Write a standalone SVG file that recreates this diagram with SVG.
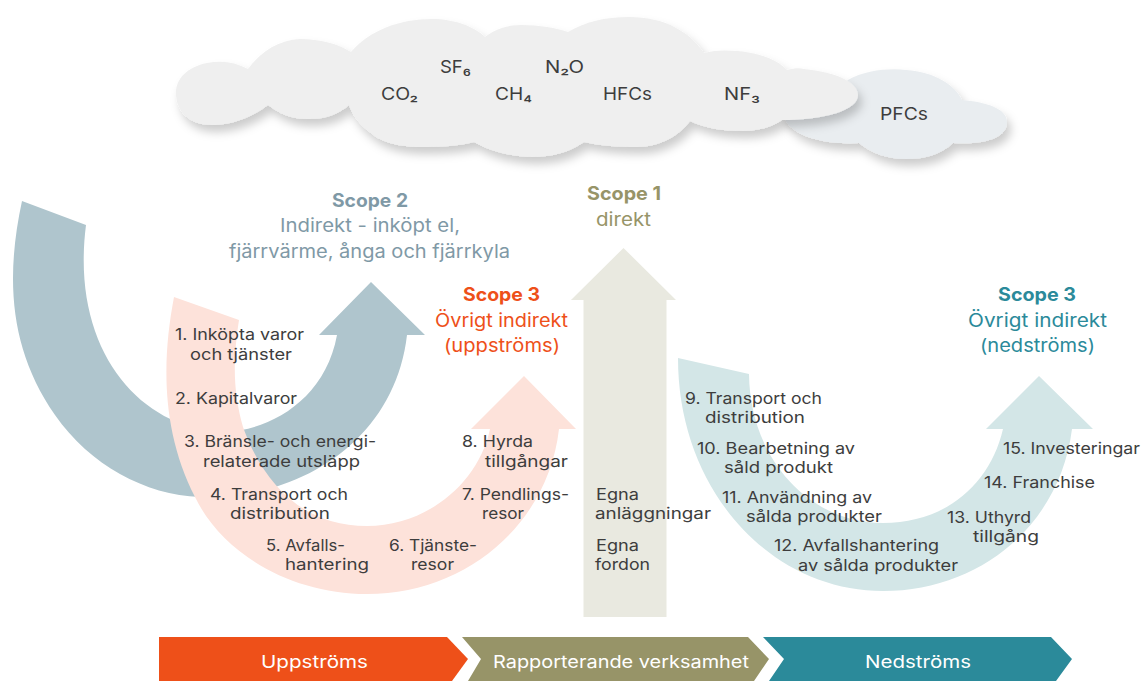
<svg xmlns="http://www.w3.org/2000/svg" width="1141" height="681" viewBox="0 0 1141 681">
<defs>
<filter id="sh" x="-10%" y="-30%" width="120%" height="170%"><feDropShadow dx="4" dy="7" stdDeviation="5" flood-color="#000" flood-opacity="0.2"/></filter>
</defs>
<style>
text{font-family:"Inter","Open Sans","Liberation Sans",sans-serif;font-size:16.2px;fill:#3d3d3d}
.h{font-size:18.5px;font-weight:700}
.s{font-size:18.5px}
.c{font-size:17.5px;fill:#3d3d3d}
.b{font-size:17.5px;fill:#fff}
.blue{fill:#7f99a6}.org{fill:#ee5019}.oli{fill:#979468}.tea{fill:#2b8a9a}
</style>
<rect width="1141" height="681" fill="#fff"/>
<g id="cloud-pfc">
<path filter="url(#sh)" fill="#e9edf0" d="M780,110 C810,95 835,90 848,80 C865,70 890,68 906,70 C935,72 955,85 962,100 C985,102 1007,108 1007,122 C1007,138 985,145 953,143 C940,155 925,159 906,159 C885,159 870,152 859,143 C835,145 800,140 787,123 Z"/>
<text class="c" x="880" y="120" textLength="48" lengthAdjust="spacingAndGlyphs">PFCs</text>
</g>
<g id="cloud-main">
<path filter="url(#sh)" fill="#efefef" d="M248,69 C235,62 222,60 207,63 C188,67 176,78 176,93 C176,112 190,125 212,125 C235,125 255,115 268,105 C280,114 293,120 310,119 C327,119 340,113 349,105 C345,85 346,65 351,52 C338,44 320,39 300,39 C280,40 262,50 248,69 Z M349,105 C345,85 346,65 351,52 C370,30 400,19 432,19 C455,19 475,27 485,37 C495,29 508,25 521,25 C540,25 556,28 568,32 C585,22 605,17 629,17 C665,17 690,32 704,53 C715,50 725,50 737,51 C760,53 778,60 787,70 C795,68 800,68 804,69 C835,72 858,82 858,95 C858,110 825,120 782,120 C772,127 758,131 743,131 C722,131 705,128 690,121 C680,135 660,147 637,147 C620,147 600,146 584,142 C570,152 552,157 532,157 C510,157 488,150 474,142 C460,146 440,147 421,147 C395,147 378,140 371,133 C360,125 352,115 349,105 Z"/>
<text class="c" x="381" y="100" textLength="37" lengthAdjust="spacingAndGlyphs">CO₂</text>
<text class="c" x="440" y="73" textLength="31" lengthAdjust="spacingAndGlyphs">SF₆</text>
<text class="c" x="545" y="73" textLength="39" lengthAdjust="spacingAndGlyphs">N₂O</text>
<text class="c" x="495" y="100" textLength="37" lengthAdjust="spacingAndGlyphs">CH₄</text>
<text class="c" x="603" y="100" textLength="49" lengthAdjust="spacingAndGlyphs">HFCs</text>
<text class="c" x="724" y="100" textLength="36" lengthAdjust="spacingAndGlyphs">NF₃</text>
</g>
<g id="connectors">
<path id="arrow-scope2" fill="#afc5cd" d="M22,201 C5,280 10,350 55,415 C90,465 145,495 200,497 C300,500 395,440 407,335 L425,335 L371,282 L319,335 L337,335 C325,400 270,430 225,432 C140,430 70,350 86,225 Z"/>
<path id="arrow-scope3-up" fill="#fde2da" d="M174,297 C162,360 161,430 195,497 C222,553 290,594 367,594 C465,594 548,525 559,429 L576,429 L524,376 L471,429 L490,429 C478,485 425,526 367,526 C300,526 262,480 243,427 C234,395 232,365 239,320 Z"/>
<path id="arrow-scope1" fill="#e9e9e0" d="M583.5,617 V300 H571 L623.5,248 L676,300 H666.5 V617 Z"/>
<path id="arrow-scope3-down" fill="#d3e6e7" d="M678,358 C678,490 770,591 883,591 C980,591 1060,525 1072,429 L1093,429 L1039,376 L986,429 L1003,429 C990,485 945,523 883,523 C810,523 750,460 749,374 Z"/>
</g>
<g id="scope2-label">
<text class="h blue" x="332" y="207" textLength="76" lengthAdjust="spacingAndGlyphs">Scope 2</text>
<text class="s blue" x="280" y="232" textLength="180" lengthAdjust="spacingAndGlyphs">Indirekt - inköpt el,</text>
<text class="s blue" x="229" y="258" textLength="281" lengthAdjust="spacingAndGlyphs">fjärrvärme, ånga och fjärrkyla</text>
</g>
<g id="scope3-up-label">
<text class="h org" x="463" y="301" textLength="77" lengthAdjust="spacingAndGlyphs">Scope 3</text>
<text class="s org" x="435" y="326.500" textLength="133" lengthAdjust="spacingAndGlyphs">Övrigt indirekt</text>
<text class="s org" x="444" y="352" textLength="116" lengthAdjust="spacingAndGlyphs">(uppströms)</text>
</g>
<g id="scope1-label">
<text class="h oli" x="587" y="200" textLength="74" lengthAdjust="spacingAndGlyphs">Scope 1</text>
<text class="s oli" x="596" y="225.500" textLength="55" lengthAdjust="spacingAndGlyphs">direkt</text>
</g>
<g id="scope3-down-label">
<text class="h tea" x="998" y="301" textLength="78" lengthAdjust="spacingAndGlyphs">Scope 3</text>
<text class="s tea" x="968" y="326.500" textLength="139" lengthAdjust="spacingAndGlyphs">Övrigt indirekt</text>
<text class="s tea" x="980" y="352" textLength="115" lengthAdjust="spacingAndGlyphs">(nedströms)</text>
</g>
<g id="items-up">
<text x="175" y="340" textLength="129" lengthAdjust="spacingAndGlyphs">1. Inköpta varor</text>
<text x="190" y="360" textLength="102" lengthAdjust="spacingAndGlyphs">och tjänster</text>
<text x="175" y="403.500" textLength="122" lengthAdjust="spacingAndGlyphs">2. Kapitalvaror</text>
<text x="184" y="447" textLength="192" lengthAdjust="spacingAndGlyphs">3. Bränsle- och energi-</text>
<text x="203" y="466.500" textLength="157" lengthAdjust="spacingAndGlyphs">relaterade utsläpp</text>
<text x="210" y="499.500" textLength="138" lengthAdjust="spacingAndGlyphs">4. Transport och</text>
<text x="230" y="519" textLength="100" lengthAdjust="spacingAndGlyphs">distribution</text>
<text x="266" y="551" textLength="79" lengthAdjust="spacingAndGlyphs">5. Avfalls-</text>
<text x="285" y="570" textLength="84" lengthAdjust="spacingAndGlyphs">hantering</text>
<text x="389" y="551" textLength="88" lengthAdjust="spacingAndGlyphs">6. Tjänste-</text>
<text x="411" y="570" textLength="43" lengthAdjust="spacingAndGlyphs">resor</text>
<text x="462" y="499.500" textLength="107" lengthAdjust="spacingAndGlyphs">7. Pendlings-</text>
<text x="482" y="519" textLength="42" lengthAdjust="spacingAndGlyphs">resor</text>
<text x="462" y="447" textLength="71" lengthAdjust="spacingAndGlyphs">8. Hyrda</text>
<text x="485" y="466.500" textLength="83" lengthAdjust="spacingAndGlyphs">tillgångar</text>
</g>
<g id="items-own">
<text x="596" y="500" textLength="43" lengthAdjust="spacingAndGlyphs">Egna</text>
<text x="595" y="519" textLength="116" lengthAdjust="spacingAndGlyphs">anläggningar</text>
<text x="596" y="551" textLength="43" lengthAdjust="spacingAndGlyphs">Egna</text>
<text x="595" y="570" textLength="55" lengthAdjust="spacingAndGlyphs">fordon</text>
</g>
<g id="items-down">
<text x="685" y="403.500" textLength="137" lengthAdjust="spacingAndGlyphs">9. Transport och</text>
<text x="705" y="423" textLength="100" lengthAdjust="spacingAndGlyphs">distribution</text>
<text x="697" y="453.500" textLength="158" lengthAdjust="spacingAndGlyphs">10. Bearbetning av</text>
<text x="724" y="473" textLength="109" lengthAdjust="spacingAndGlyphs">såld produkt</text>
<text x="722" y="502.500" textLength="150" lengthAdjust="spacingAndGlyphs">11. Användning av</text>
<text x="746" y="522" textLength="136" lengthAdjust="spacingAndGlyphs">sålda produkter</text>
<text x="774" y="551" textLength="165" lengthAdjust="spacingAndGlyphs">12. Avfallshantering</text>
<text x="798" y="570.500" textLength="160" lengthAdjust="spacingAndGlyphs">av sålda produkter</text>
<text x="947" y="522.500" textLength="84" lengthAdjust="spacingAndGlyphs">13. Uthyrd</text>
<text x="973" y="542" textLength="66" lengthAdjust="spacingAndGlyphs">tillgång</text>
<text x="984" y="487.500" textLength="111" lengthAdjust="spacingAndGlyphs">14. Franchise</text>
<text x="1003" y="453.500" textLength="137" lengthAdjust="spacingAndGlyphs">15. Investeringar</text>
</g>
<g id="bar-upstream">
<path fill="#ee5019" d="M159,637 H447 L468,659 L452,681 H159 Z"/>
<text class="b" x="261" y="668" textLength="107" lengthAdjust="spacingAndGlyphs">Uppströms</text>
</g>
<g id="bar-reporting">
<path fill="#979468" d="M462,637 H748 L769,659 L754,681 H468 L481,659 Z"/>
<text class="b" x="493" y="668" textLength="256" lengthAdjust="spacingAndGlyphs">Rapporterande verksamhet</text>
</g>
<g id="bar-downstream">
<path fill="#2b8a9a" d="M763,637 H1051 L1072,659 L1056,681 H769 L784,659 Z"/>
<text class="b" x="865" y="668" textLength="106" lengthAdjust="spacingAndGlyphs">Nedströms</text>
</g>
</svg>
